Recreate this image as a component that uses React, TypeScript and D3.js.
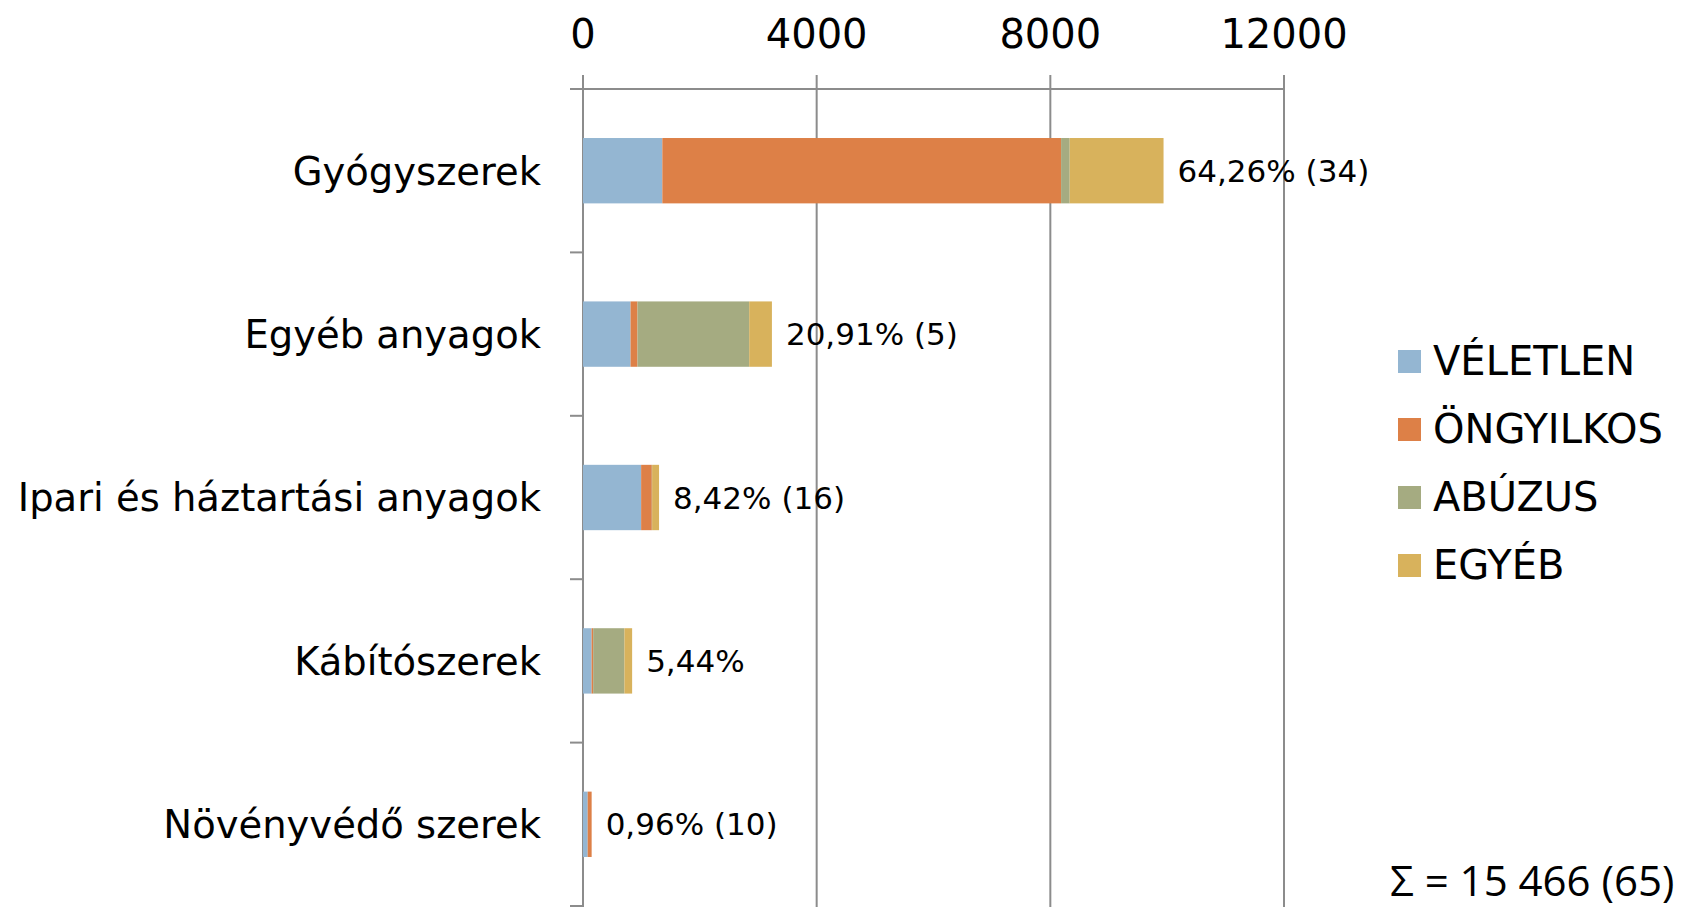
import * as d3 from 'd3';
import React, { useEffect, useRef } from 'react';

// Categories and series values
const categories = ['Gyógyszerek', 'Egyéb anyagok', 'Ipari és háztartási anyagok', 'Kábítószerek', 'Növényvédő szerek'];
const seriesNames = ['VÉLETLEN', 'ÖNGYILKOS', 'ABÚZUS', 'EGYÉB'];
const veletlen = [1358, 814, 995, 147, 80];
const ongyilkos = [6826, 119, 183, 27, 68];
const abuzus = [147, 1912, 5, 535, 0];
const egyeb = [1607, 389, 119, 132, 0];
const barLabels = ['64,26% (34)', '20,91% (5)', '8,42% (16)', '5,44%', '0,96% (10)'];
const xTicks = [0, 4000, 8000, 12000];
const totalLabel = 'Σ = 15 466 (65)';

const colors = ['#94b6d2', '#dd8047', '#a5ab81', '#d8b25c'];

const App = () => {
  const svgRef = useRef<SVGSVGElement>(null);

  useEffect(() => {
    document.body.style.margin = '0';
    document.body.style.overflow = 'hidden';

    const width = 1686;
    const height = 907;
    const margin = { top: 89, right: 402, bottom: 1, left: 583 };
    const font = '"DejaVu Sans", sans-serif';
    const axisColor = '#8c8c8c';

    const rows = categories.map((c, i) => ({
      category: c,
      [seriesNames[0]]: veletlen[i],
      [seriesNames[1]]: ongyilkos[i],
      [seriesNames[2]]: abuzus[i],
      [seriesNames[3]]: egyeb[i],
    }));

    const stacked = d3.stack<any>().keys(seriesNames)(rows);

    const xScale = d3.scaleLinear()
      .domain([0, 12000])
      .range([margin.left, width - margin.right]);

    const yScale = d3.scaleBand()
      .domain(categories)
      .range([margin.top, height - margin.bottom])
      .paddingInner(0.6)
      .paddingOuter(0.3);

    const svg = d3.select(svgRef.current);
    svg.selectAll('*').remove();
    svg.attr('width', width).attr('height', height);

    // gridlines, with the tick marks above the top axis
    svg.append('g')
      .selectAll('line')
      .data(xTicks)
      .enter()
      .append('line')
      .attr('x1', d => xScale(d))
      .attr('x2', d => xScale(d))
      .attr('y1', margin.top - 14)
      .attr('y2', height)
      .attr('stroke', axisColor)
      .attr('stroke-width', 2);

    // top axis line
    svg.append('line')
      .attr('x1', margin.left - 13)
      .attr('x2', xScale(12000))
      .attr('y1', margin.top)
      .attr('y2', margin.top)
      .attr('stroke', axisColor)
      .attr('stroke-width', 2);

    // category ticks at band boundaries
    const step = yScale.step();
    const boundaries = d3.range(categories.length + 1).map(i => margin.top + i * step);
    svg.append('g')
      .selectAll('line')
      .data(boundaries)
      .enter()
      .append('line')
      .attr('x1', margin.left - 13)
      .attr('x2', margin.left)
      .attr('y1', d => d)
      .attr('y2', d => d)
      .attr('stroke', axisColor)
      .attr('stroke-width', 2);

    // tick labels
    svg.append('g')
      .selectAll('text')
      .data(xTicks)
      .enter()
      .append('text')
      .attr('x', d => xScale(d))
      .attr('y', 48)
      .attr('text-anchor', 'middle')
      .style('font-family', font)
      .style('font-size', '40px')
      .text(d => d);

    // bars
    svg.append('g')
      .selectAll('g')
      .data(stacked)
      .enter()
      .append('g')
      .attr('fill', (_, i) => colors[i])
      .selectAll('rect')
      .data(d => d)
      .enter()
      .append('rect')
      .attr('x', d => xScale(d[0]))
      .attr('y', d => yScale(d.data.category)!)
      .attr('width', d => xScale(d[1]) - xScale(d[0]))
      .attr('height', yScale.bandwidth());

    // category labels
    svg.append('g')
      .selectAll('text')
      .data(categories)
      .enter()
      .append('text')
      .attr('x', margin.left - 42)
      .attr('y', d => yScale(d)! + yScale.bandwidth() / 2)
      .attr('dy', '0.36em')
      .attr('text-anchor', 'end')
      .style('font-family', font)
      .style('font-size', '38.5px')
      .text(d => d);

    // bar end labels
    const last = stacked[stacked.length - 1];
    svg.append('g')
      .selectAll('text')
      .data(last)
      .enter()
      .append('text')
      .attr('x', d => xScale(d[1]) + 14)
      .attr('y', d => yScale(d.data.category)! + yScale.bandwidth() / 2)
      .attr('dy', '0.36em')
      .style('font-family', font)
      .style('font-size', '31px')
      .text((_, i) => barLabels[i]);

    // legend
    const legend = svg.append('g')
      .selectAll('g')
      .data(seriesNames)
      .enter()
      .append('g')
      .attr('transform', (_, i) => `translate(1398,${361 + i * 68})`);

    legend.append('rect')
      .attr('x', 0)
      .attr('y', -11)
      .attr('width', 23)
      .attr('height', 23)
      .attr('fill', (_, i) => colors[i]);

    legend.append('text')
      .attr('x', 35)
      .attr('y', 0)
      .attr('dy', '0.36em')
      .style('font-family', font)
      .style('font-size', '40px')
      .text(d => d);

    // total
    svg.append('text')
      .attr('x', 1390)
      .attr('y', 896)
      .style('font-family', '"Open Sans", sans-serif')
      .style('font-size', '42px')
      .text(totalLabel);
  }, []);

  return <svg ref={svgRef} style={{ display: 'block' }}></svg>;
};

export default App;
